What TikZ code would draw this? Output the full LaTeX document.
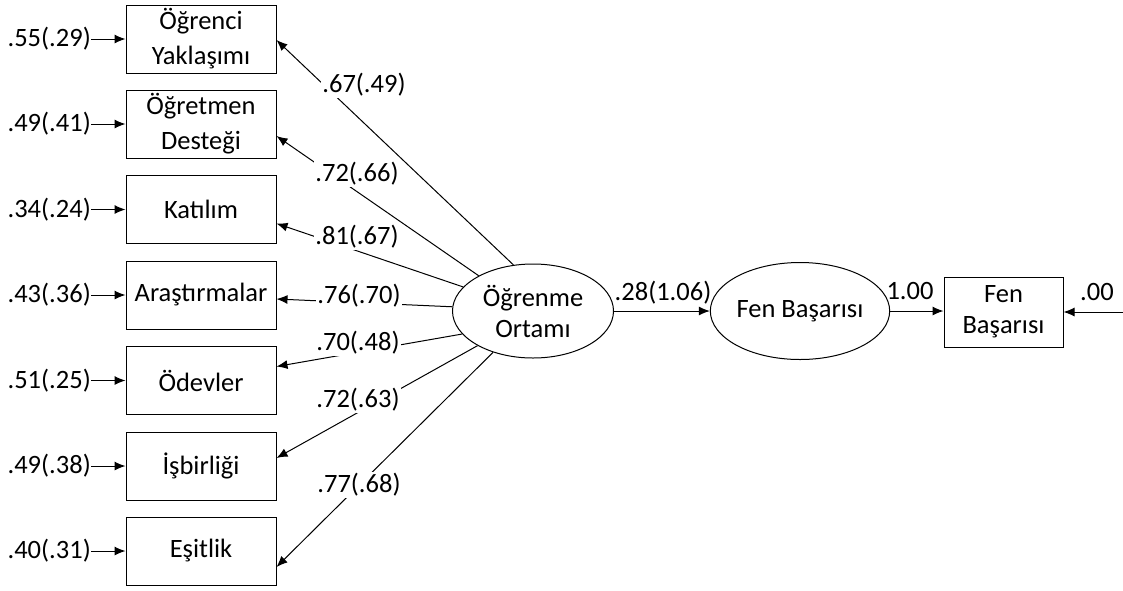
\documentclass[tikz,border=0pt]{standalone}
\usepackage{fontspec}
\setmainfont{Carlito}
\usetikzlibrary{arrows.meta,shapes.geometric}
\begin{document}
\begin{tikzpicture}[x=1pt,y=1pt,
 every node/.style={font=\fontsize{26.5}{35}\selectfont, inner sep=0pt},
 obs/.style={draw, line width=1pt, minimum width=150pt, minimum height=68pt, align=center},
 lat/.style={draw, ellipse, line width=1pt, align=center, font=\fontsize{26.5}{31}\selectfont},
 arr/.style={line width=1pt, -{Latex[length=11pt,width=9pt]}},
 coef/.style={fill=white, inner sep=1pt}]
\useasboundingbox (0,0) rectangle (1123,-590);
% observed indicators
\node[obs] (b1) at (201,-39) {Öğrenci\\Yaklaşımı};
\node[obs] (b2) at (201,-124) {Öğretmen\\Desteği};
\node[obs] (b3) at (201,-209.5) {Katılım};
\node[obs] (b4) at (201,-295) {Araştırmalar};
\node[obs] (b5) at (201,-380.5) {Ödevler};
\node[obs] (b6) at (201,-466) {İşbirliği};
\node[obs] (b7) at (201,-551) {Eşitlik};
% error terms
\node[anchor=east] (e1) at (91,-39) {.55(.29)};
\node[anchor=east] (e2) at (91,-124) {.49(.41)};
\node[anchor=east] (e3) at (91,-209.5) {.34(.24)};
\node[anchor=east] (e4) at (91,-295) {.43(.36)};
\node[anchor=east] (e5) at (91,-380.5) {.51(.25)};
\node[anchor=east] (e6) at (91,-466) {.49(.38)};
\node[anchor=east] (e7) at (91,-551) {.40(.31)};
\foreach \i in {1,...,7} \draw[arr] (e\i) -- (b\i);
% latent variables
\node[lat, minimum width=161pt, minimum height=94pt] (oe) at (533,-311) {Öğrenme\\Ortamı};
\node[lat, minimum width=159pt, minimum height=97pt] (fb) at (800,-311) {Fen Başarısı};
\node[obs, minimum width=119pt, minimum height=70pt, font=\fontsize{26.5}{31}\selectfont] (fbox) at (1003.5,-312) {Fen\\Başarısı};
\coordinate (r) at (1123,-312);
% loadings
\draw[arr] (oe.113.5) -- ([yshift=-1pt]b1.east);
\draw[arr] (oe.147) -- ([yshift=-12pt]b2.east);
\draw[arr] (oe.161) -- ([yshift=-14pt]b3.east);
\draw[arr] (oe.177) -- ([yshift=-4pt]b4.east);
\draw[arr] (oe.198) -- ([yshift=14pt]b5.east);
\draw[arr] (oe.212) -- ([yshift=8pt]b6.east);
\draw[arr] (oe.226) -- ([yshift=-16pt]b7.east);
\node[coef] (l1) at (364,-85) {.67(.49)};
\node[coef] (l2) at (357,-174) {.72(.66)};
\node[coef] (l3) at (357,-237) {.81(.67)};
\node[coef] (l4) at (359,-296) {.76(.70)};
\node[coef] (l5) at (358,-343) {.70(.48)};
\node[coef] (l6) at (358,-400) {.72(.63)};
\node[coef] (l7) at (359,-485) {.77(.68)};
% structural paths
\draw[arr] (oe.east) -- (fb.west);
\draw[arr] (fb.east) -- (fbox.west |- fb.east);
\draw[arr] (r) -- (fbox.east);
\node (p1) at (663,-293) {.28(1.06)};
\node (p2) at (910,-291) {1.00};
\node (p3) at (1097,-292) {.00};
\end{tikzpicture}
\end{document}
